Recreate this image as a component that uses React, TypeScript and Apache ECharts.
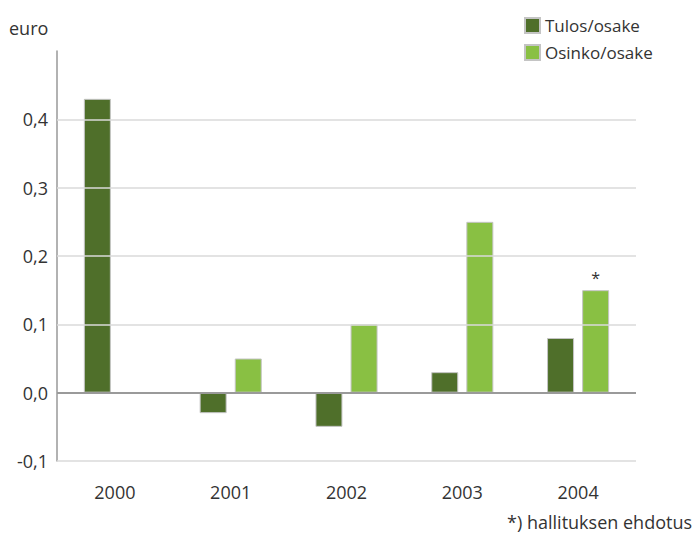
import React, { useEffect, useRef } from "react";
import * as echarts from "echarts";

const years = ["2000", "2001", "2002", "2003", "2004"];
const tulos = [0.43, -0.03, -0.05, 0.03, 0.08];
const osinko = [null, 0.05, 0.1, 0.25, 0.15];
const gridValues = [-0.1, 0.1, 0.2, 0.3, 0.4];
const proposalIndex = 4;

const FONT = "'Open Sans', 'Noto Sans', sans-serif";

export default function App() {
  const ref = useRef<HTMLDivElement>(null);
  useEffect(() => {
    const chart = echarts.init(ref.current!, undefined, { renderer: "svg" });
    chart.setOption({
      animation: false,
      textStyle: { fontFamily: FONT },
      grid: { left: 57, right: 59, top: 51, bottom: 77 },
      legend: {
        orient: "vertical",
        left: 519,
        top: 12,
        itemWidth: 15,
        itemHeight: 15,
        itemGap: 10,
        icon: "rect",
        textStyle: { fontSize: 17, color: "#333", fontFamily: FONT },
        data: ["Tulos/osake", "Osinko/osake"],
      },
      graphic: [
        { type: "text", left: 9, top: 19, style: { text: "euro", font: `18px ${FONT}`, fill: "#333" } },
        { type: "text", right: 3, top: 513, style: { text: "*) hallituksen ehdotus", font: `18px ${FONT}`, fill: "#333" } },
      ],
      xAxis: {
        type: "category",
        data: years,
        axisLine: { show: false, onZero: false },
        axisTick: { show: false },
        axisLabel: { fontSize: 18, color: "#333", margin: 22, fontFamily: FONT },
      },
      yAxis: {
        type: "value",
        min: -0.1,
        max: 0.5,
        interval: 0.1,
        axisLine: { show: true, lineStyle: { color: "#999", width: 1.5 } },
        axisTick: { show: false },
        splitLine: { show: false },
        axisLabel: {
          fontSize: 18,
          color: "#333",
          margin: 9,
          fontFamily: FONT,
          formatter: (v: number) => (v > 0.45 ? "" : v.toFixed(1).replace(".", ",")),
        },
      },
      series: [
        {
          name: "Tulos/osake",
          type: "bar",
          data: tulos,
          barWidth: 27,
          barGap: "30%",
          itemStyle: { color: "#4f6f2a", borderColor: "#c4c4c4", borderWidth: 1 },
          markLine: {
            silent: true,
            symbol: "none",
            label: { show: false },
            data: [
              ...gridValues.map((v) => ({ yAxis: v, lineStyle: { color: "#dadada", width: 1.5, type: "solid" } })),
              { yAxis: 0, lineStyle: { color: "#9a9a9a", width: 2, type: "solid" } },
            ],
          },
          z: 3,
        },
        {
          name: "Osinko/osake",
          type: "bar",
          data: osinko.map((v, i) =>
            i === proposalIndex
              ? { value: v, label: { show: true, position: "top", formatter: "*", fontSize: 16, color: "#333", distance: 4 } }
              : v
          ),
          barWidth: 27,
          itemStyle: { color: "#89c043", borderColor: "#c4c4c4", borderWidth: 1 },
          z: 3,
        },
      ],
    });
    return () => chart.dispose();
  }, []);
  return <div ref={ref} style={{ width: 695, height: 538, position: "absolute", left: 0, top: 0 }} />;
}
